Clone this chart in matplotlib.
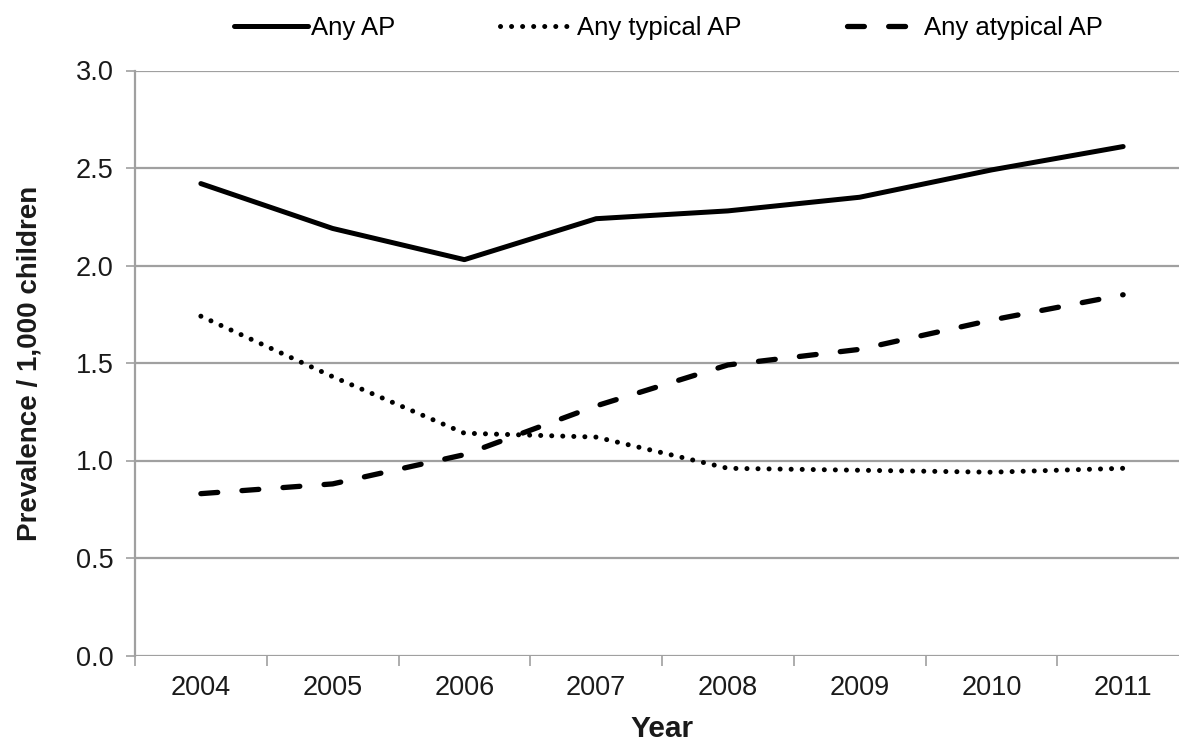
import numpy as np
import matplotlib
matplotlib.use("Agg")
import matplotlib.pyplot as plt

plt.rcParams['font.family'] = ['Liberation Sans', 'DejaVu Sans']

# data
years = ['2004', '2005', '2006', '2007', '2008', '2009', '2010', '2011']
any_ap = [2.42, 2.19, 2.03, 2.24, 2.28, 2.35, 2.49, 2.61]
any_typical = [1.74, 1.43, 1.14, 1.12, 0.96, 0.95, 0.94, 0.96]
any_atypical = [0.83, 0.88, 1.03, 1.28, 1.49, 1.57, 1.72, 1.85]
y_ticks = [0.0, 0.5, 1.0, 1.5, 2.0, 2.5, 3.0]

grid_col = '#a0a0a0'
text_col = '#1a1a1a'

fig = plt.figure(figsize=(11.79, 7.45), dpi=100)
ax = fig.add_axes([135 / 1179, 89.5 / 745, 1054 / 1179, 585 / 745])

x = np.arange(len(years))

# gridlines
for v in y_ticks:
    ax.axhline(v, color=grid_col, lw=1.6, zorder=1)

ax.plot(x, any_ap, color='black', lw=3.6, solid_capstyle='round',
        solid_joinstyle='round', label='Any AP', zorder=3)
ax.plot(x, any_typical, color='black', lw=3.6, linestyle=(0, (0.01, 2.2)),
        dash_capstyle='round', label='Any typical AP', zorder=3)
ax.plot(x, any_atypical, color='black', lw=3.8, linestyle=(0, (3.2, 4.6)),
        dash_capstyle='round', label='Any atypical AP', zorder=3)

ax.set_xlim(-0.5, len(years) - 0.5)
ax.set_ylim(0, 3.0)

ax.set_yticks(y_ticks)
ax.set_yticklabels([f'{v:.1f}' for v in y_ticks])
ax.set_xticks(x)
ax.set_xticklabels(years)
ax.set_xticks(np.arange(len(years) + 1) - 0.5, minor=True)

ax.tick_params(axis='y', length=6.5, width=1.2, color=grid_col, pad=9,
               labelsize=19.5, labelcolor=text_col)
ax.tick_params(axis='x', which='major', length=0, pad=14,
               labelsize=19.5, labelcolor=text_col)
ax.tick_params(axis='x', which='minor', length=7, width=1.2, color=grid_col)

for side in ['top', 'right', 'bottom']:
    ax.spines[side].set_visible(False)
ax.spines['left'].set_color(grid_col)
ax.spines['left'].set_linewidth(1.6)

ax.set_xlabel('Year', fontsize=21.5, fontweight='bold', color=text_col, labelpad=10)
ax.set_ylabel('Prevalence / 1,000 children', fontsize=20, fontweight='bold',
              color=text_col, labelpad=24)

fig.legend(loc='upper center', bbox_to_anchor=(0.567, 1.01), ncol=3,
           frameon=False, fontsize=18.5, handlelength=2.9, handletextpad=0.1,
           columnspacing=4.1)

fig.savefig('out.png', dpi=100)
